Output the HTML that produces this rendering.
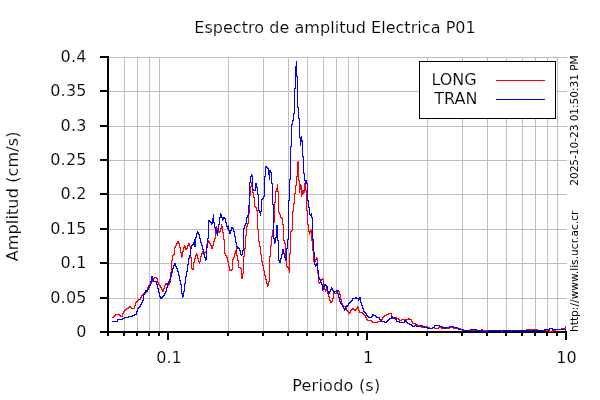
<!DOCTYPE html>
<html lang="es"><head><meta charset="utf-8"><title>Espectro de amplitud Electrica P01</title>
<style>html,body{margin:0;padding:0;background:#fff;}body{width:600px;height:400px;overflow:hidden;}svg{display:block;}text{font-family:"DejaVu Sans","Liberation Sans",sans-serif;fill:#000;}</style></head><body>
<svg width="600" height="400" viewBox="0 0 600 400">
<rect x="0" y="0" width="600" height="400" fill="#ffffff"/>
<g shape-rendering="crispEdges" fill="#bebebe">
<rect x="124" y="57" width="1" height="275"/>
<rect x="137" y="57" width="1" height="275"/>
<rect x="149" y="57" width="1" height="275"/>
<rect x="159" y="57" width="1" height="275"/>
<rect x="228" y="57" width="1" height="275"/>
<rect x="263" y="57" width="1" height="275"/>
<rect x="288" y="57" width="1" height="275"/>
<rect x="307" y="57" width="1" height="275"/>
<rect x="323" y="57" width="1" height="275"/>
<rect x="336" y="57" width="1" height="275"/>
<rect x="348" y="57" width="1" height="275"/>
<rect x="358" y="57" width="1" height="275"/>
<rect x="427" y="57" width="1" height="275"/>
<rect x="462" y="57" width="1" height="275"/>
<rect x="487" y="57" width="1" height="275"/>
<rect x="506" y="57" width="1" height="275"/>
<rect x="522" y="57" width="1" height="275"/>
<rect x="535" y="57" width="1" height="275"/>
<rect x="547" y="57" width="1" height="275"/>
<rect x="557" y="57" width="1" height="275"/>
<rect x="108" y="298" width="459" height="1"/>
<rect x="108" y="263" width="459" height="1"/>
<rect x="108" y="229" width="459" height="1"/>
<rect x="108" y="194" width="459" height="1"/>
<rect x="108" y="160" width="459" height="1"/>
<rect x="108" y="126" width="459" height="1"/>
<rect x="108" y="91" width="459" height="1"/>
<rect x="108" y="57" width="459" height="1"/>
</g>
<g shape-rendering="crispEdges" fill="#000000">
<rect x="107" y="56" width="2" height="277"/>
<rect x="107" y="331" width="460" height="2"/>
<rect x="100" y="331" width="9" height="2"/>
<rect x="100" y="297" width="9" height="2"/>
<rect x="100" y="262" width="9" height="2"/>
<rect x="100" y="228" width="9" height="2"/>
<rect x="100" y="193" width="9" height="2"/>
<rect x="100" y="159" width="9" height="2"/>
<rect x="100" y="125" width="9" height="2"/>
<rect x="100" y="90" width="9" height="2"/>
<rect x="100" y="56" width="9" height="2"/>
<rect x="123" y="331" width="2" height="5"/>
<rect x="136" y="331" width="2" height="5"/>
<rect x="148" y="331" width="2" height="5"/>
<rect x="158" y="331" width="2" height="5"/>
<rect x="167" y="331" width="2" height="9"/>
<rect x="227" y="331" width="2" height="5"/>
<rect x="262" y="331" width="2" height="5"/>
<rect x="287" y="331" width="2" height="5"/>
<rect x="306" y="331" width="2" height="5"/>
<rect x="322" y="331" width="2" height="5"/>
<rect x="335" y="331" width="2" height="5"/>
<rect x="347" y="331" width="2" height="5"/>
<rect x="357" y="331" width="2" height="5"/>
<rect x="366" y="331" width="2" height="9"/>
<rect x="426" y="331" width="2" height="5"/>
<rect x="461" y="331" width="2" height="5"/>
<rect x="486" y="331" width="2" height="5"/>
<rect x="505" y="331" width="2" height="5"/>
<rect x="521" y="331" width="2" height="5"/>
<rect x="534" y="331" width="2" height="5"/>
<rect x="546" y="331" width="2" height="5"/>
<rect x="556" y="331" width="2" height="5"/>
<rect x="107" y="331" width="2" height="5"/>
<rect x="565" y="331" width="2" height="9"/>
</g>
<g shape-rendering="crispEdges" fill="none" stroke-width="1">
<path stroke="#ff0000" d="M112.5 317v1M113.5 316v2M114.5 315v2M115.5 314v2M116.5 314v1M117.5 314v1M118.5 314v1M119.5 314v2M120.5 315v2M121.5 316v1M122.5 313v4M123.5 311v3M124.5 310v2M125.5 309v2M126.5 308v2M127.5 308v1M128.5 307v2M129.5 306v2M130.5 306v2M131.5 307v2M132.5 308v1M133.5 308v1M134.5 305v4M135.5 302v4M136.5 301v2M137.5 300v2M138.5 299v2M139.5 299v1M140.5 297v3M141.5 295v3M142.5 294v2M143.5 293v2M144.5 293v1M145.5 292v2M146.5 290v3M147.5 287v4M148.5 285v3M149.5 284v2M150.5 283v2M151.5 281v3M152.5 279v3M153.5 278v2M154.5 277v2M155.5 277v1M156.5 277v2M157.5 278v5M158.5 282v3M159.5 284v2M160.5 285v3M161.5 287v3M162.5 289v3M163.5 288v4M164.5 285v4M165.5 283v3M166.5 283v2M167.5 284v2M168.5 284v2M169.5 282v3M170.5 272v11M171.5 260v13M172.5 255v6M173.5 254v2M174.5 247v8M175.5 245v3M176.5 243v3M177.5 241v3M178.5 241v3M179.5 243v5M180.5 247v6M181.5 252v6M182.5 251v6M183.5 247v5M184.5 245v3M185.5 246v4M186.5 248v2M187.5 245v4M188.5 243v3M189.5 243v4M190.5 246v12M191.5 257v12M192.5 268v2M193.5 262v8M194.5 258v5M195.5 255v4M196.5 253v3M197.5 254v5M198.5 258v4M199.5 261v3M200.5 256v6M201.5 253v4M202.5 251v3M203.5 252v3M204.5 252v3M205.5 251v2M206.5 244v8M207.5 242v3M208.5 240v3M209.5 241v3M210.5 243v3M211.5 245v4M212.5 245v4M213.5 241v5M214.5 238v4M215.5 231v8M216.5 226v6M217.5 228v4M218.5 231v2M219.5 231v2M220.5 228v4M221.5 224v5M222.5 226v7M223.5 232v8M224.5 239v15M225.5 253v3M226.5 255v3M227.5 257v5M228.5 261v6M229.5 266v5M230.5 270v1M231.5 269v2M232.5 259v11M233.5 257v3M234.5 253v5M235.5 250v4M236.5 247v9M237.5 255v6M238.5 260v8M239.5 267v1M240.5 267v2M241.5 268v11M242.5 273v6M243.5 256v18M244.5 248v9M245.5 235v14M246.5 226v10M247.5 223v4M248.5 213v11M249.5 195v19M250.5 186v10M251.5 182v5M252.5 184v9M253.5 192v6M254.5 197v10M255.5 206v2M256.5 207v4M257.5 210v20M258.5 229v13M259.5 241v6M260.5 246v9M261.5 254v8M262.5 261v5M263.5 265v6M264.5 270v6M265.5 275v5M266.5 279v5M267.5 283v4M268.5 281v5M269.5 256v26M270.5 245v12M271.5 236v10M272.5 230v7M273.5 222v9M274.5 202v21M275.5 191v12M276.5 188v4M277.5 184v8M278.5 191v22M279.5 212v3M280.5 214v4M281.5 217v2M282.5 218v7M283.5 224v17M284.5 240v4M285.5 243v15M286.5 257v10M287.5 266v2M288.5 267v3M289.5 253v20M290.5 231v23M291.5 230v2M292.5 211v20M293.5 203v9M294.5 193v11M295.5 185v9M296.5 176v10M297.5 162v15M298.5 161v20M299.5 180v13M300.5 184v6M301.5 185v12M302.5 190v5M303.5 190v4M304.5 183v10M305.5 183v8M306.5 190v21M307.5 210v15M308.5 224v8M309.5 231v4M310.5 229v4M311.5 230v11M312.5 240v11M313.5 250v12M314.5 261v2M315.5 259v3M316.5 257v3M317.5 258v16M318.5 273v10M319.5 282v2M320.5 280v3M321.5 279v2M322.5 278v2M323.5 279v7M324.5 285v5M325.5 289v3M326.5 288v3M327.5 288v6M328.5 293v4M329.5 296v5M330.5 300v3M331.5 301v2M332.5 298v4M333.5 292v7M334.5 292v2M335.5 293v1M336.5 292v2M337.5 290v3M338.5 290v2M339.5 291v4M340.5 294v6M341.5 299v5M342.5 303v3M343.5 305v2M344.5 306v1M345.5 306v3M346.5 308v3M347.5 310v2M348.5 311v3M349.5 312v2M350.5 310v3M351.5 309v2M352.5 308v2M353.5 308v2M354.5 309v2M355.5 309v2M356.5 308v2M357.5 306v3M358.5 307v4M359.5 310v3M360.5 312v1M361.5 312v1M362.5 312v2M363.5 313v2M364.5 314v2M365.5 315v3M366.5 317v3M367.5 319v2M368.5 320v1M369.5 320v1M370.5 320v1M371.5 320v2M372.5 321v2M373.5 322v1M374.5 322v1M375.5 322v1M376.5 322v1M377.5 321v2M378.5 321v1M379.5 321v1M380.5 321v1M381.5 319v3M382.5 317v3M383.5 316v2M384.5 315v2M385.5 315v1M386.5 314v2M387.5 314v1M388.5 313v2M389.5 313v1M390.5 313v1M391.5 313v4M392.5 316v3M393.5 318v1M394.5 318v1M395.5 317v2M396.5 317v2M397.5 318v1M398.5 318v2M399.5 319v2M400.5 320v1M401.5 319v2M402.5 319v1M403.5 319v1M404.5 319v1M405.5 319v2M406.5 319v2M407.5 319v1M408.5 318v2M409.5 318v2M410.5 319v1M411.5 319v3M412.5 321v3M413.5 323v1M414.5 323v1M415.5 323v2M416.5 324v1M417.5 324v2M418.5 325v1M419.5 325v2M420.5 326v1M421.5 326v2M422.5 327v1M423.5 327v1M424.5 327v1M425.5 326v2M426.5 326v1M427.5 326v2M428.5 327v1M429.5 327v2M430.5 328v1M431.5 328v1M432.5 327v2M433.5 327v1M434.5 327v2M435.5 328v1M436.5 328v1M437.5 328v1M438.5 327v2M439.5 327v1M440.5 327v1M441.5 327v2M442.5 328v1M443.5 328v1M444.5 328v1M445.5 328v1M446.5 328v1M447.5 328v1M448.5 328v1M449.5 327v2M450.5 327v1M451.5 327v1M452.5 327v1M453.5 327v2M454.5 328v1M455.5 328v1M456.5 327v2M457.5 327v2M458.5 328v1M459.5 328v1M460.5 328v2M461.5 329v1M462.5 329v1M463.5 329v2M464.5 330v1M465.5 330v1M466.5 330v1M467.5 330v1M468.5 330v1M469.5 330v1M470.5 330v1M471.5 330v1M472.5 330v1M473.5 330v1M474.5 330v1M475.5 330v1M476.5 330v1M477.5 330v1M478.5 330v1M479.5 330v1M480.5 330v1M481.5 329v2M482.5 329v2M483.5 330v1M484.5 330v1M485.5 330v1M486.5 330v1M487.5 330v1M488.5 330v1M489.5 330v1M490.5 330v1M491.5 330v1M492.5 330v1M493.5 330v1M494.5 330v1M495.5 330v1M496.5 330v1M497.5 330v1M498.5 330v1M499.5 330v1M500.5 330v1M501.5 330v2M502.5 330v2M503.5 330v1M504.5 330v1M505.5 330v1M506.5 330v1M507.5 330v1M508.5 330v1M509.5 330v1M510.5 330v1M511.5 330v1M512.5 330v1M513.5 330v1M514.5 330v1M515.5 330v1M516.5 330v1M517.5 330v1M518.5 330v1M519.5 330v1M520.5 330v1M521.5 330v1M522.5 330v1M523.5 330v1M524.5 330v1M525.5 330v1M526.5 329v2M527.5 329v1M528.5 329v1M529.5 329v1M530.5 329v2M531.5 329v2M532.5 329v1M533.5 329v1M534.5 329v1M535.5 329v1M536.5 329v1M537.5 329v2M538.5 330v1M539.5 330v1M540.5 330v1M541.5 330v1M542.5 330v1M543.5 330v1M544.5 330v1M545.5 330v1M546.5 330v1M547.5 330v1M548.5 330v1M549.5 330v2M550.5 331v1M551.5 331v1M552.5 330v2M553.5 330v1M554.5 330v1M555.5 329v2M556.5 329v1M557.5 329v1M558.5 329v1M559.5 329v1M560.5 329v1M561.5 328v2M562.5 328v1M563.5 328v1M564.5 328v1M565.5 326v3"/>
<path stroke="#0000ff" d="M112.5 321v1M113.5 321v1M114.5 321v1M115.5 321v1M116.5 321v1M117.5 319v3M118.5 319v1M119.5 319v1M120.5 319v1M121.5 319v1M122.5 318v2M123.5 318v1M124.5 317v2M125.5 317v1M126.5 317v1M127.5 317v1M128.5 316v2M129.5 316v1M130.5 316v1M131.5 316v1M132.5 315v2M133.5 315v1M134.5 314v2M135.5 314v1M136.5 311v4M137.5 308v4M138.5 307v2M139.5 306v2M140.5 304v3M141.5 302v3M142.5 300v3M143.5 294v7M144.5 292v3M145.5 290v3M146.5 290v2M147.5 289v3M148.5 287v3M149.5 285v3M150.5 281v5M151.5 276v6M152.5 276v4M153.5 279v3M154.5 281v1M155.5 281v1M156.5 281v4M157.5 284v5M158.5 288v5M159.5 292v5M160.5 296v3M161.5 297v2M162.5 296v2M163.5 295v2M164.5 293v3M165.5 291v3M166.5 287v5M167.5 283v5M168.5 281v3M169.5 279v3M170.5 276v4M171.5 272v5M172.5 268v5M173.5 265v4M174.5 263v3M175.5 263v4M176.5 266v3M177.5 268v4M178.5 271v5M179.5 275v6M180.5 280v5M181.5 284v10M182.5 293v5M183.5 291v6M184.5 283v9M185.5 276v8M186.5 271v6M187.5 264v8M188.5 258v7M189.5 255v4M190.5 248v8M191.5 245v4M192.5 244v2M193.5 242v3M194.5 239v8M195.5 237v10M196.5 233v5M197.5 231v3M198.5 232v3M199.5 234v5M200.5 238v5M201.5 242v4M202.5 245v5M203.5 249v5M204.5 253v5M205.5 257v4M206.5 247v13M207.5 238v10M208.5 220v19M209.5 220v2M210.5 221v2M211.5 222v3M212.5 218v6M213.5 214v9M214.5 222v6M215.5 227v4M216.5 229v5M217.5 230v6M218.5 224v7M219.5 217v8M220.5 213v5M221.5 214v4M222.5 217v4M223.5 217v3M224.5 217v2M225.5 218v5M226.5 222v5M227.5 226v3M228.5 225v6M229.5 230v4M230.5 230v4M231.5 227v4M232.5 227v2M233.5 228v4M234.5 231v6M235.5 236v7M236.5 242v5M237.5 246v3M238.5 247v2M239.5 248v3M240.5 250v5M241.5 254v2M242.5 250v5M243.5 228v23M244.5 225v4M245.5 223v3M246.5 217v7M247.5 215v3M248.5 205v11M249.5 182v24M250.5 176v7M251.5 174v3M252.5 175v15M253.5 189v2M254.5 190v1M255.5 183v8M256.5 183v5M257.5 187v8M258.5 194v17M259.5 210v3M260.5 211v5M261.5 199v13M262.5 198v2M263.5 196v3M264.5 176v21M265.5 166v11M266.5 166v2M267.5 167v2M268.5 168v7M269.5 170v10M270.5 170v3M271.5 172v12M272.5 183v22M273.5 204v35M274.5 238v6M275.5 237v6M276.5 225v13M277.5 225v16M278.5 240v21M279.5 260v3M280.5 258v5M281.5 254v5M282.5 249v6M283.5 249v5M284.5 253v5M285.5 257v4M286.5 248v12M287.5 239v10M288.5 200v40M289.5 179v22M290.5 146v34M291.5 124v23M292.5 120v5M293.5 113v8M294.5 88v26M295.5 66v23M296.5 61v16M297.5 76v32M298.5 107v12M299.5 118v20M300.5 137v9M301.5 136v6M302.5 140v17M303.5 156v18M304.5 173v8M305.5 180v4M306.5 180v4M307.5 183v18M308.5 200v8M309.5 207v8M310.5 214v2M311.5 213v5M312.5 217v23M313.5 239v14M314.5 252v13M315.5 264v3M316.5 263v3M317.5 263v8M318.5 270v8M319.5 277v3M320.5 279v4M321.5 282v3M322.5 284v7M323.5 286v4M324.5 284v3M325.5 284v2M326.5 285v3M327.5 286v6M328.5 291v3M329.5 291v3M330.5 289v3M331.5 287v3M332.5 288v3M333.5 290v3M334.5 291v2M335.5 291v1M336.5 290v2M337.5 290v4M338.5 293v5M339.5 297v5M340.5 301v3M341.5 303v2M342.5 304v3M343.5 306v3M344.5 308v3M345.5 307v3M346.5 305v3M347.5 305v2M348.5 303v3M349.5 302v2M350.5 301v2M351.5 300v2M352.5 298v3M353.5 298v1M354.5 298v1M355.5 297v2M356.5 297v2M357.5 298v1M358.5 298v3M359.5 297v3M360.5 297v6M361.5 302v4M362.5 305v4M363.5 308v4M364.5 311v2M365.5 312v2M366.5 313v3M367.5 315v2M368.5 316v2M369.5 317v1M370.5 317v1M371.5 316v2M372.5 314v3M373.5 314v2M374.5 315v1M375.5 315v2M376.5 316v2M377.5 317v1M378.5 317v1M379.5 317v3M380.5 319v2M381.5 320v2M382.5 321v1M383.5 321v1M384.5 321v2M385.5 322v1M386.5 321v2M387.5 320v2M388.5 319v2M389.5 318v2M390.5 318v1M391.5 316v3M392.5 316v2M393.5 317v1M394.5 317v2M395.5 318v2M396.5 319v3M397.5 321v1M398.5 321v1M399.5 321v2M400.5 322v1M401.5 322v1M402.5 322v1M403.5 322v1M404.5 320v3M405.5 320v2M406.5 321v2M407.5 322v2M408.5 323v1M409.5 323v2M410.5 324v1M411.5 324v2M412.5 325v2M413.5 326v1M414.5 325v2M415.5 325v1M416.5 325v2M417.5 326v1M418.5 326v1M419.5 326v1M420.5 325v2M421.5 325v1M422.5 325v2M423.5 326v1M424.5 326v2M425.5 327v1M426.5 327v1M427.5 327v2M428.5 328v1M429.5 328v1M430.5 328v1M431.5 328v1M432.5 327v2M433.5 327v1M434.5 325v3M435.5 325v1M436.5 325v1M437.5 325v1M438.5 325v1M439.5 325v2M440.5 326v1M441.5 326v1M442.5 326v2M443.5 327v1M444.5 327v2M445.5 327v2M446.5 327v1M447.5 327v1M448.5 327v1M449.5 326v2M450.5 326v1M451.5 326v1M452.5 326v1M453.5 326v2M454.5 327v1M455.5 327v1M456.5 327v1M457.5 327v2M458.5 328v2M459.5 329v1M460.5 329v1M461.5 329v1M462.5 329v2M463.5 330v1M464.5 330v1M465.5 330v1M466.5 330v1M467.5 330v1M468.5 330v1M469.5 330v1M470.5 329v2M471.5 329v1M472.5 329v1M473.5 329v1M474.5 329v1M475.5 329v1M476.5 329v2M477.5 330v1M478.5 330v1M479.5 330v1M480.5 330v1M481.5 330v1M482.5 330v2M483.5 331v1M484.5 331v1M485.5 331v1M486.5 331v1M487.5 331v1M488.5 330v2M489.5 330v1M490.5 330v1M491.5 330v1M492.5 330v1M493.5 330v1M494.5 330v1M495.5 330v1M496.5 330v1M497.5 330v1M498.5 330v1M499.5 330v1M500.5 330v1M501.5 330v1M502.5 330v1M503.5 330v1M504.5 330v1M505.5 330v1M506.5 330v1M507.5 330v1M508.5 330v1M509.5 330v1M510.5 330v2M511.5 331v1M512.5 330v2M513.5 330v1M514.5 330v1M515.5 330v1M516.5 330v1M517.5 330v1M518.5 330v1M519.5 330v1M520.5 330v1M521.5 330v1M522.5 330v1M523.5 330v1M524.5 330v1M525.5 330v1M526.5 330v1M527.5 330v1M528.5 330v1M529.5 330v1M530.5 330v1M531.5 330v1M532.5 330v1M533.5 330v1M534.5 330v1M535.5 330v1M536.5 330v1M537.5 330v1M538.5 330v1M539.5 330v1M540.5 330v1M541.5 330v1M542.5 330v1M543.5 330v1M544.5 329v2M545.5 329v1M546.5 329v1M547.5 329v1M548.5 329v1M549.5 328v2M550.5 328v1M551.5 328v1M552.5 328v2M553.5 329v1M554.5 329v1M555.5 329v1M556.5 329v1M557.5 329v1M558.5 329v1M559.5 329v1M560.5 329v1M561.5 329v1M562.5 329v1M563.5 329v1M564.5 329v1M565.5 329v2"/>
</g>
<g shape-rendering="crispEdges">
<rect x="419.5" y="61.5" width="136" height="57" fill="#ffffff" stroke="#000000" stroke-width="1"/>
<rect x="496" y="80" width="49" height="1" fill="#ff0000"/>
<rect x="496" y="99" width="49" height="1" fill="#0000ff"/>
</g>
<g font-size="16px" stroke="#ffffff" stroke-width="0.15">
<text x="335" y="33" text-anchor="middle" textLength="281.5">Espectro de amplitud Electrica P01</text>
<text x="86.8" y="337" text-anchor="end" letter-spacing="0.25">0</text>
<text x="86.8" y="303" text-anchor="end" letter-spacing="0.25">0.05</text>
<text x="86.8" y="268" text-anchor="end" letter-spacing="0.25">0.1</text>
<text x="86.8" y="234" text-anchor="end" letter-spacing="0.25">0.15</text>
<text x="86.8" y="199" text-anchor="end" letter-spacing="0.25">0.2</text>
<text x="86.8" y="165" text-anchor="end" letter-spacing="0.25">0.25</text>
<text x="86.8" y="131" text-anchor="end" letter-spacing="0.25">0.3</text>
<text x="86.8" y="96" text-anchor="end" letter-spacing="0.25">0.35</text>
<text x="86.8" y="62" text-anchor="end" letter-spacing="0.25">0.4</text>
<text x="169" y="362.8" text-anchor="middle">0.1</text>
<text x="368" y="362.8" text-anchor="middle">1</text>
<text x="566.5" y="362.8" text-anchor="middle">10</text>
<text x="336.2" y="390.7" text-anchor="middle" textLength="88">Periodo (s)</text>
<text transform="translate(17.7,196.45) rotate(-90)" text-anchor="middle" textLength="129.7">Amplitud (cm/s)</text>
<text x="476.7" y="85" text-anchor="end">LONG</text>
<text x="477.5" y="104" text-anchor="end">TRAN</text>
</g>
<g font-size="10.67px">
<text transform="translate(578,332) rotate(-90)">http://www.lis.ucr.ac.cr</text>
<text transform="translate(578,185.7) rotate(-90)" textLength="130.4">2025-10-23 01:50:31 PM</text>
</g>
</svg></body></html>
